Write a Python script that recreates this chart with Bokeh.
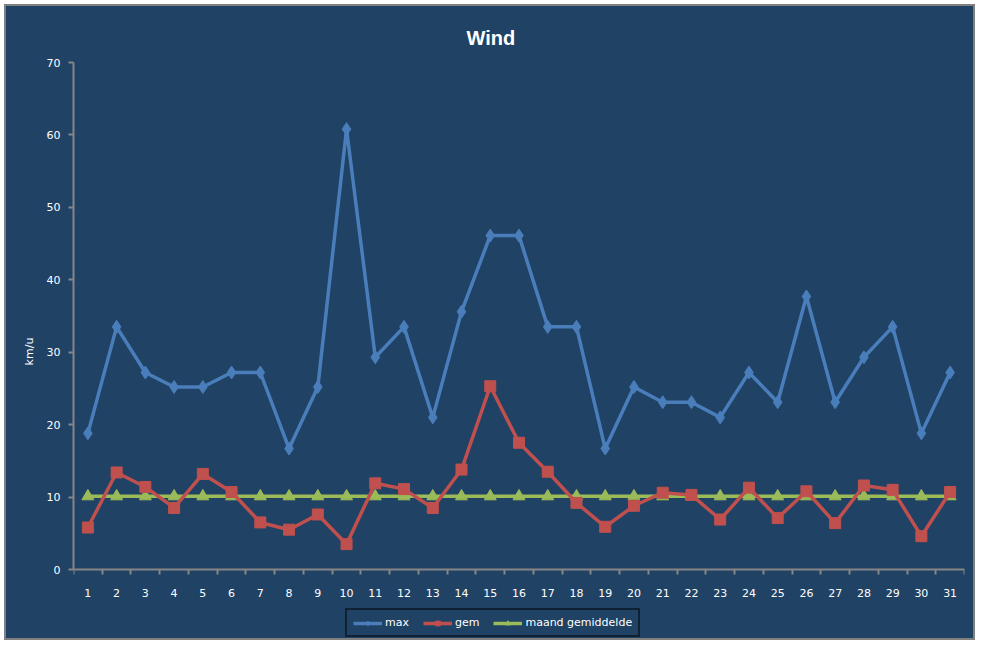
from bokeh.plotting import figure
from bokeh.models import (ColumnDataSource, FixedTicker, Legend, LegendItem, Range1d, Title)
from bokeh.embed import file_html
from bokeh.resources import INLINE

days = list(range(1, 32))
day_labels = [str(d) for d in days]
max_kmh = [18.8, 33.5, 27.2, 25.2, 25.2, 27.2, 27.2, 16.7, 25.2, 60.8, 29.3, 33.5, 21.0, 35.6, 46.1, 46.1,
           33.5, 33.5, 16.7, 25.2, 23.1, 23.1, 21.0, 27.2, 23.1, 37.7, 23.1, 29.3, 33.5, 18.8, 27.2]
gem_kmh = [5.8, 13.4, 11.4, 8.5, 13.2, 10.7, 6.5, 5.5, 7.6, 3.5, 11.9, 11.1, 8.5, 13.8, 25.3, 17.5,
           13.5, 9.2, 5.9, 8.8, 10.6, 10.3, 6.9, 11.3, 7.1, 10.8, 6.4, 11.6, 11.0, 4.6, 10.7]
maand_gem = [10.1, 10.1, 10.1, 10.1, 10.1, 10.1, 10.1, 10.1, 10.1, 10.1, 10.1, 10.1, 10.1, 10.1, 10.1, 10.1,
             10.1, 10.1, 10.1, 10.1, 10.1, 10.1, 10.1, 10.1, 10.1, 10.1, 10.1, 10.1, 10.1, 10.1, 10.1]
y_ticks = [0, 10, 20, 30, 40, 50, 60, 70]

BG = "#1F4265"
BLUE = "#4A7EBB"
RED = "#C0504D"
GREEN = "#9BBB59"
AXIS = "#868686"
FONT = "DejaVu Sans"

src = ColumnDataSource(dict(x=days, mx=max_kmh, gem=gem_kmh, mg=maand_gem))

# frame extends below the x axis (axis fixed at y=0) so the legend can sit inside it
p = figure(width=971, height=636, output_backend="svg", toolbar_location=None,
           x_range=Range1d(0.5, 31.5), y_range=Range1d(-9.8, 70),
           min_border_left=67, min_border_right=13, min_border_top=56, min_border_bottom=2)
p.background_fill_color = None
p.border_fill_color = None
p.outline_line_color = None
p.grid.visible = False
p.styles = {"margin-left": "4px", "margin-top": "4px", "background-color": BG,
            "border": "2px solid #808080"}

t = Title(text="Wind", align="left", offset=393, vertical_align="middle", standoff=26,
          text_color="white", text_font="Liberation Sans", text_font_size="20px",
          text_font_style="bold")
p.add_layout(t, "above")

# x axis
p.xaxis.fixed_location = 0
p.xaxis.ticker = FixedTicker(ticks=days, minor_ticks=[d - 0.5 for d in days] + [31.5])
p.xaxis.major_label_overrides = {d: l for d, l in zip(days, day_labels)}
p.xaxis.major_tick_in = 0
p.xaxis.major_tick_out = 0
p.xaxis.minor_tick_in = 0
p.xaxis.minor_tick_out = 5
p.xaxis.minor_tick_line_color = AXIS
p.xaxis.minor_tick_line_width = 2
p.xaxis.axis_line_color = AXIS
p.xaxis.axis_line_width = 2
p.xaxis.major_label_standoff = 14
p.xaxis.major_label_text_color = "white"
p.xaxis.major_label_text_font = FONT
p.xaxis.major_label_text_font_size = "11px"

# y axis
p.yaxis.bounds = (0, 70)
p.yaxis.ticker = FixedTicker(ticks=y_ticks, minor_ticks=[])
p.yaxis.major_tick_in = 0
p.yaxis.major_tick_out = 5
p.yaxis.major_tick_line_color = AXIS
p.yaxis.major_tick_line_width = 2
p.yaxis.axis_line_color = AXIS
p.yaxis.axis_line_width = 2
p.yaxis.major_label_standoff = 8
p.yaxis.major_label_text_color = "white"
p.yaxis.major_label_text_font = FONT
p.yaxis.major_label_text_font_size = "11px"
p.yaxis.axis_label = "km/u"
p.yaxis.axis_label_text_color = "white"
p.yaxis.axis_label_text_font = FONT
p.yaxis.axis_label_text_font_size = "11px"
p.yaxis.axis_label_text_font_style = "normal"
p.yaxis.axis_label_standoff = 8

# series
l_mg = p.line("x", "mg", source=src, line_color=GREEN, line_width=3.5)
m_mg = p.scatter("x", "mg", source=src, marker="triangle", size=12, fill_color=GREEN, line_color=GREEN)
l_mx = p.line("x", "mx", source=src, line_color=BLUE, line_width=3.5)
m_mx = p.scatter("x", "mx", source=src, marker="diamond", size=13, fill_color=BLUE, line_color=BLUE)
l_gem = p.line("x", "gem", source=src, line_color=RED, line_width=3.5)
m_gem = p.scatter("x", "gem", source=src, marker="square", size=11, fill_color=RED, line_color=RED)

legend = Legend(items=[
    LegendItem(label="max", renderers=[l_mx, m_mx]),
    LegendItem(label="gem", renderers=[l_gem, m_gem]),
    LegendItem(label="maand gemiddelde", renderers=[l_mg, m_mg]),
], orientation="horizontal", location=(272, 3))
legend.background_fill_color = BG
legend.background_fill_alpha = 1
legend.border_line_color = "black"
legend.border_line_width = 2
legend.label_text_color = "white"
legend.label_text_font = FONT
legend.label_text_font_size = "11px"
legend.glyph_width = 29
legend.glyph_height = 12
legend.label_standoff = 3
legend.spacing = 14
legend.padding = 6
legend.margin = 0
legend.label_height = 12
p.add_layout(legend, "center")

open("out.html", "w").write(file_html(p, INLINE))
